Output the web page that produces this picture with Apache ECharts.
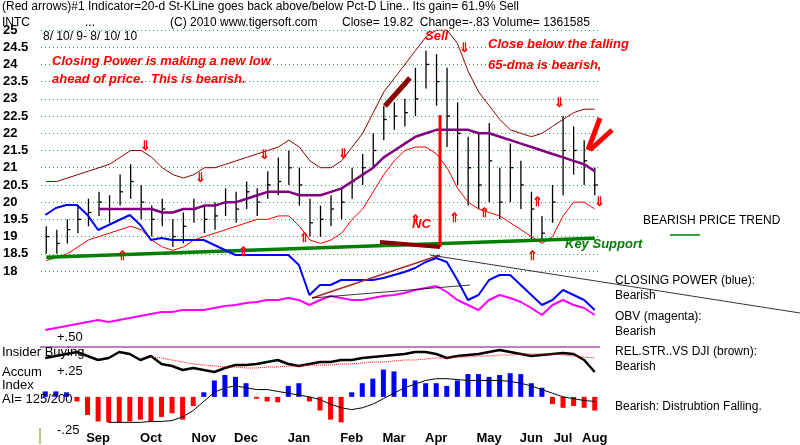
<!DOCTYPE html>
<html><head><meta charset="utf-8">
<script src="https://cdn.jsdelivr.net/npm/echarts@6/dist/echarts.min.js"></script>
<style>html,body{margin:0;padding:0;background:#fff}#main{width:800px;height:445px}</style>
</head><body><div id="main"></div>
<script>
// weekly bars 8/10/09 - 8/10/10
var monthLabels = ['','','','','','Sep','','','','','Oct','','','','','Nov','','','','Dec','','','','','Jan','','','','','Feb','','','','Mar','','','','Apr','','','','','May','','','','Jun','','','Jul','','','Aug'];
var closes = [19.0,18.8,19.2,19.5,19.7,20.0,19.8,20.3,20.6,20.0, 19.5,19.8,19.0,19.3,19.8,19.5,19.6,20.0,19.8,20.3, 20.0,20.5,20.6,21.0,20.5,19.4,19.5,19.8,20.0,20.6, 21.0,21.5,22.4,22.5,22.6,23.0,24.0,23.5,22.5,22.0, 21.0,20.5,21.2,20.0,21.0,20.5,19.8,19.1,20.0,21.5, 21.5,21.2,20.5];
var highs = [19.3,19.2,19.5,19.9,20.1,20.3,20.2,20.8,21.1,20.5, 19.9,20.1,19.5,19.7,20.1,19.9,20.0,20.4,20.3,20.6, 20.4,20.9,21.3,21.5,21.0,20.1,19.9,20.2,20.4,21.0, 21.4,22.0,22.8,22.9,23.0,23.9,24.4,24.3,23.9,22.9, 21.9,22.0,22.3,21.0,21.7,21.2,20.3,19.6,20.5,22.5, 22.2,21.8,21.0];
var lows = [18.5,18.5,18.8,19.1,19.3,19.6,19.4,19.9,20.1,19.5, 19.0,19.3,18.7,18.8,19.4,19.1,19.2,19.6,19.4,19.8, 19.6,20.1,20.2,20.5,19.9,19.0,19.0,19.3,19.5,20.1, 20.5,21.0,21.8,22.1,22.2,22.5,23.3,22.8,21.6,20.5, 19.9,19.8,20.0,19.5,20.0,19.8,18.9,18.9,19.4,20.2, 20.8,20.5,20.2];
var upperBand = [20.6,20.6,20.7,20.8,20.9,21.0,21.1,21.3,21.5,21.5, 21.3,21.0,20.8,20.7,20.8,21.0,21.0,21.1,21.2,21.3, 21.4,21.5,21.6,21.8,21.6,21.2,21.0,21.0,21.2,21.6, 22.0,22.6,23.2,23.6,24.0,24.4,24.8,25.0,25.0,24.6, 23.8,23.2,22.8,22.4,22.1,22.0,21.9,22.0,22.2,22.4, 22.6,22.7,22.7];
var lowerBand = [18.3,18.4,18.5,18.7,18.9,19.0,19.1,19.2,19.3,19.2, 18.9,18.7,18.6,18.7,18.9,19.0,19.1,19.2,19.3,19.4, 19.5,19.5,19.6,19.6,19.3,18.9,18.8,18.9,19.1,19.5, 19.8,20.3,20.8,21.2,21.5,21.6,21.6,21.4,21.0,20.4, 20.0,19.8,19.7,19.6,19.4,19.2,19.0,18.8,19.0,19.6, 20.0,20.0,19.8];
var ma65 = [null,null,null,null,null,19.8,19.8,19.8,19.8,19.8, 19.8,19.7,19.7,19.8,19.8,19.9,19.9,20.0,20.0,20.1, 20.2,20.3,20.3,20.3,20.2,20.2,20.2,20.3,20.4,20.6, 20.8,21.0,21.3,21.5,21.7,21.9,22.0,22.1,22.1,22.1, 22.1,22.0,22.0,21.9,21.8,21.7,21.6,21.5,21.4,21.3, 21.2,21.1,20.9];
var support = [18.4,null,null,null,null,null,null,null,null,null, null,null,null,null,null,null,null,null,null,null, null,null,null,null,null,null,null,null,null,null, null,null,null,null,null,null,null,null,null,null, null,null,null,null,null,null,null,null,null,null, null,null,18.95];
var closingPower = [185,192,195,195,185,170,175,180,185,175, 160,162,160,160,160,160,155,150,145,145, 145,145,145,145,135,105,115,115,120,120, 120,120,122,125,128,132,138,142,138,120, 100,105,120,125,125,115,105,95,100,110, 105,100,90];
var obv = [70,72,74,76,78,80,78,80,82,84, 86,88,88,90,90,90,92,94,95,97, 98,100,100,102,100,95,100,104,102,100, 100,102,104,105,107,110,112,114,108,100, 95,90,100,105,102,98,92,85,95,100, 95,92,85];
var relStr = [42,44,46,48,44,40,42,48,46,40, 44,36,34,30,32,30,28,32,35,35, 36,38,40,36,34,36,38,38,40,40, 42,43,44,45,46,48,48,46,42,44, 45,46,48,50,48,46,44,45,46,47, 46,40,28];
var relStrMa = [null,null,null,null,null,null,null,null,null,null, 43,42,40,38,36,35,34,33,33,32, 32,33,33,34,34,35,35,35,36,36, 37,38,38,39,40,40,41,42,42,43, 43,44,44,45,45,46,46,46,46,45, 44,43,42];
var accumIdx = [6,6,5,-5,-20,-27,-28,-28,-27,-25, -27,-22,-18,-25,-10,5,18,24,22,15, -2,-5,-6,12,15,-5,-15,-25,-28,5, 15,20,30,28,20,18,15,15,12,18, 25,25,22,24,26,25,15,10,-8,-12, -10,-12,-15];
var accumMa = [null,null,null,null,null,null,-28,-28,-28,-28, -27,-27,-26,-22,-15,-5,5,10,12,10, 8,8,6,4,2,0,-3,-8,-12,-14, -12,-8,-2,4,10,14,18,20,20,19, 18,18,18,18,17,15,12,8,4,0, -2,-4,-5];

var myChart = echarts.init(document.getElementById('main'));
var F = 'Liberation Sans, Arial, sans-serif';
var gridBox = {left: 40, width: 560};
function xax(idx, show) {
    return {gridIndex: idx, type: 'category', data: monthLabels, boundaryGap: true,
        axisLine: {show: false}, axisTick: {show: false}, splitLine: {show: false},
        axisLabel: {show: show, interval: 0, color: '#000', fontFamily: F, fontSize: 13, fontWeight: 'bold', margin: 6}};
}
function txt(x, y, s, style) {
    return {type: 'text', left: x, top: y, z: 50, style: Object.assign({text: s, fill: '#000', font: '12px ' + F}, style || {})};
}
function ln(x1, y1, x2, y2, c, w) {
    return {type: 'line', z: 40, shape: {x1: x1, y1: y1, x2: x2, y2: y2}, style: {stroke: c, lineWidth: w}};
}
var redI = {fill: '#ff0000', font: 'italic bold 13px ' + F};
var graphics = [
    txt(2, 1, '(Red arrows)#1 Indicator=20-d St-KLine goes back above/below Pct-D Line.. Its gain= 61.9% Sell'),
    txt(2, 17, 'INTC'), txt(85, 17, '...'), txt(170, 17, '(C) 2010 www.tigersoft.com'),
    txt(342, 17, 'Close= 19.82  Change=-.83 Volume= 1361585'),
    txt(43, 31, '8/ 10/ 9- 8/ 10/ 10'),
    txt(52, 55, 'Closing Power is making a new low', redI),
    txt(52, 73, 'ahead of price.  This is bearish.', redI),
    txt(425, 30, 'Sell', redI),
    txt(488, 38, 'Close below the falling', redI),
    txt(488, 59, '65-dma is bearish,', redI),
    txt(412, 218, 'NC', redI),
    txt(565, 238, 'Key Support', {fill: '#008000', font: 'italic bold 13px ' + F}),
    txt(643, 215, 'BEARISH PRICE TREND'),
    ln(670, 235, 700, 235, '#008000', 1.5),
    txt(615, 275, 'CLOSING POWER (blue):'), txt(615, 290, 'Bearish'),
    txt(615, 311, 'OBV (magenta):'), txt(615, 326, 'Bearish'),
    txt(615, 346, 'REL.STR..VS DJI (brown):'), txt(615, 361, 'Bearish'),
    txt(615, 401, 'Bearish: Distrubtion Falling.'),
    txt(2, 346, 'Insider Buying', {font: '13px ' + F}),
    txt(2, 366, 'Accum', {font: '13px ' + F}), txt(2, 379, 'Index', {font: '13px ' + F}),
    txt(2, 393, 'AI= 125/200', {font: '13px ' + F}),
    txt(57, 331, '+.50', {font: '13px ' + F}), txt(57, 365, '+.25', {font: '13px ' + F}),
    txt(57, 424, '-.25', {font: '13px ' + F}),
    ln(40, 428, 40, 444, '#808000', 1),
    // big sell line and trend annotations
    ln(440, 115, 440, 247, '#ff0000', 3),
    ln(385, 106, 410, 78, '#8b0000', 5),
    ln(312, 298, 440, 255, '#a52a2a', 1.5),
    ln(312, 298, 470, 285, '#000', 0.8),
    ln(430, 255, 800, 313, '#000', 0.8),
    ln(380, 242, 440, 247, '#8b0000', 4),
    ln(588, 150, 600, 118, '#ff0000', 5), ln(590, 150, 612, 130, '#ff0000', 5),
    ln(40, 347, 600, 347, '#800080', 1.2)
];
var arrowsDn = [[140, 140], [195, 172], [259, 149], [338, 148], [459, 42], [554, 97], [594, 196]];
var arrowsUp = [[117, 250], [299, 232], [410, 214], [449, 212], [479, 207], [527, 250], [532, 196], [238, 246]];
arrowsDn.forEach(function (p) { graphics.push(txt(p[0], p[1], '⇓', {fill: '#ff0000', font: 'bold 13px ' + F})); });
arrowsUp.forEach(function (p) { graphics.push(txt(p[0], p[1], '⇑', {fill: '#ff0000', font: 'bold 13px ' + F})); });

var ohlc = closes.map(function (c, i) { return [i, highs[i], lows[i], c]; });

option = {
    animation: false,
    backgroundColor: '#fff',
    grid: [
        Object.assign({top: 30, height: 241}, gridBox),
        Object.assign({top: 30, height: 344}, gridBox),
        Object.assign({top: 338, height: 36}, gridBox),
        Object.assign({top: 365, height: 67}, gridBox)
    ],
    xAxis: [xax(0, false), xax(1, false), xax(2, false), xax(3, true)],
    yAxis: [
        {gridIndex: 0, type: 'value', min: 18, max: 25, interval: 0.5,
         axisLine: {show: false}, axisTick: {show: false},
         axisLabel: {color: '#000', fontFamily: F, fontSize: 13, fontWeight: 'bold', align: 'left', margin: 38},
         splitLine: {lineStyle: {color: '#3a9a3a', type: [1, 3], width: 1}}},
        {gridIndex: 1, type: 'value', min: 26, max: 370, show: false},
        {gridIndex: 2, type: 'value', min: 26, max: 62, show: false},
        {gridIndex: 3, type: 'value', min: -32, max: 35, show: false}
    ],
    series: [
        {type: 'line', xAxisIndex: 0, yAxisIndex: 0, data: upperBand, symbol: 'none', lineStyle: {color: '#8b0000', width: 1}},
        {type: 'line', xAxisIndex: 0, yAxisIndex: 0, data: lowerBand, symbol: 'none', lineStyle: {color: '#ff0000', width: 1}},
        {type: 'line', xAxisIndex: 0, yAxisIndex: 0, data: ma65, symbol: 'none', lineStyle: {color: '#800080', width: 2.5}},
        {type: 'line', xAxisIndex: 0, yAxisIndex: 0, data: support, connectNulls: true, symbol: 'none', lineStyle: {color: '#008000', width: 3.5}},
        {type: 'custom', xAxisIndex: 0, yAxisIndex: 0, data: ohlc,
         renderItem: function (params, api) {
             var h = api.coord([api.value(0), api.value(1)]);
             var l = api.coord([api.value(0), api.value(2)]);
             var c = api.coord([api.value(0), api.value(3)]);
             return {type: 'group', children: [
                 {type: 'line', shape: {x1: h[0], y1: h[1], x2: l[0], y2: l[1]}, style: {stroke: '#000', lineWidth: 1.3}},
                 {type: 'line', shape: {x1: c[0], y1: c[1], x2: c[0] + 3, y2: c[1]}, style: {stroke: '#000', lineWidth: 1.3}}
             ]};
         }},
        {type: 'line', xAxisIndex: 1, yAxisIndex: 1, data: closingPower, symbol: 'none', lineStyle: {color: '#0000ff', width: 2}},
        {type: 'line', xAxisIndex: 1, yAxisIndex: 1, data: obv, symbol: 'none', lineStyle: {color: '#ff00ff', width: 2}},
        {type: 'line', xAxisIndex: 2, yAxisIndex: 2, data: relStr, symbol: 'none', lineStyle: {color: '#000', width: 2.5}},
        {type: 'line', xAxisIndex: 2, yAxisIndex: 2, data: relStrMa, symbol: 'none', lineStyle: {color: '#ff0000', width: 1, type: 'dotted'}},
        {type: 'bar', xAxisIndex: 3, yAxisIndex: 3, data: accumIdx.map(function (v) {
            return {value: v, itemStyle: {color: v >= 0 ? '#0000ff' : '#ff0000'}};
         }), barWidth: 5},
        {type: 'line', xAxisIndex: 3, yAxisIndex: 3, data: accumMa, symbol: 'none', lineStyle: {color: '#000', width: 1}}
    ],
    graphic: graphics
};
myChart.setOption(option, true);
</script>
</body></html>
